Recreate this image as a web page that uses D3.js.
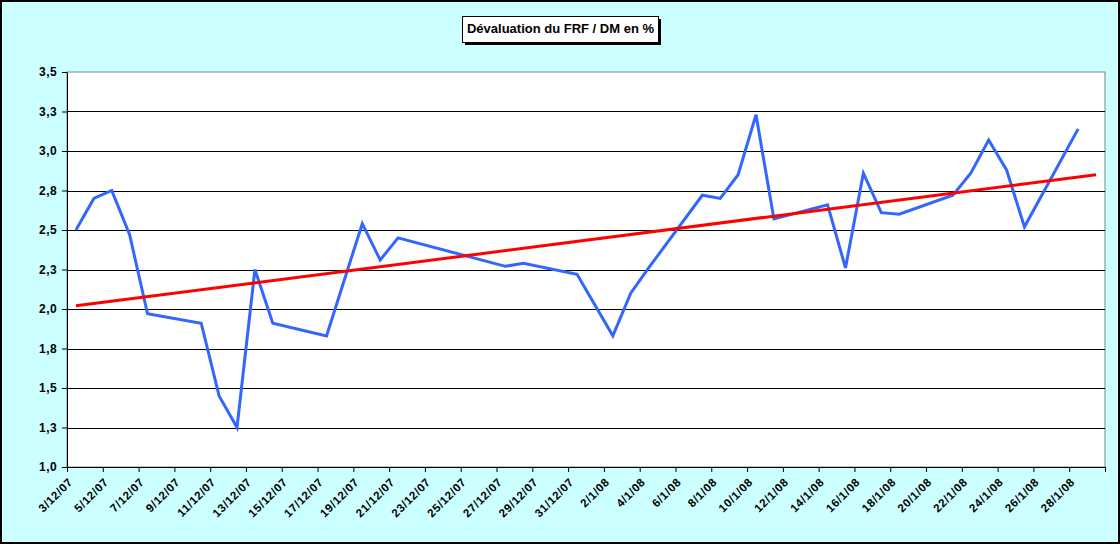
<!DOCTYPE html>
<html>
<head>
<meta charset="utf-8">
<script src="https://cdn.jsdelivr.net/npm/d3@7"></script>
<style>
	body{margin:0;background:#fff}
	svg{display:block;font-family:Arial,"Liberation Sans",sans-serif}
</style>
</head>
<body>
<div class="chart"></div>
<script>
// values (fixing days only, weekends / holidays absent)
const dates=['3/12/07','4/12/07','5/12/07','6/12/07','7/12/07',
	'10/12/07','11/12/07','12/12/07','13/12/07','14/12/07',
	'17/12/07','19/12/07','20/12/07','21/12/07',
	'27/12/07','28/12/07','31/12/07',
	'2/1/08','3/1/08','4/1/08','7/1/08','8/1/08','9/1/08','10/1/08','11/1/08',
	'14/1/08','15/1/08','16/1/08','17/1/08','18/1/08',
	'21/1/08','22/1/08','23/1/08','24/1/08','25/1/08','28/1/08']
const values=[2.50,2.70,2.75,2.47,1.97,
	1.91,1.45,1.25,2.25,1.91,
	1.83,2.54,2.31,2.45,
	2.27,2.29,2.22,
	1.83,2.10,2.26,2.72,2.70,2.85,3.23,2.57,
	2.66,2.26,2.86,2.61,2.60,
	2.72,2.86,3.07,2.88,2.52,3.14]

// linear trend, end points as drawn
const trendDates=['3/12/07','29/1/08']
const trendValues=[2.02,2.85]

const yTicks=[1,1.25,1.5,1.75,2,2.25,2.5,2.75,3,3.25,3.5]
const yTickLabels=['1,0','1,3','1,5','1,8','2,0','2,3','2,5','2,8','3,0','3,3','3,5']
const xTickLabels=['3/12/07','5/12/07','7/12/07','9/12/07','11/12/07','13/12/07','15/12/07',
	'17/12/07','19/12/07','21/12/07','23/12/07','25/12/07','27/12/07','29/12/07','31/12/07',
	'2/1/08','4/1/08','6/1/08','8/1/08','10/1/08','12/1/08','14/1/08','16/1/08',
	'18/1/08','20/1/08','22/1/08','24/1/08','26/1/08','28/1/08']
const xStart='3/12/07', xEnd='30/1/08'
const title='Dévaluation du FRF / DM en %'

const W=1120, H=544
const margin=({top:72,right:15,bottom:77,left:67})
const width=W-margin.left-margin.right,
	height=H-margin.top-margin.bottom

const parse=d3.timeParse('%d/%m/%y')
const mid=d=>d3.timeHour.offset(parse(d),12)

const svg=d3.select('.chart').append('svg')
	.attr('width',W)
	.attr('height',H)

svg.append('rect')
	.attr('x',1).attr('y',1)
	.attr('width',W-2).attr('height',H-2)
	.attr('fill','#ccffff')
	.attr('stroke','#000')
	.attr('stroke-width',2)

const g=svg.append('g')
	.attr('transform','translate('+margin.left+','+margin.top+')')

let xScale=d3.scaleTime()
	.domain([parse(xStart),parse(xEnd)])
	.range([0,width])

let yScale=d3.scaleLinear()
	.domain([yTicks[0],yTicks[yTicks.length-1]])
	.range([height,0])

// plot area
g.append('rect')
	.attr('x',0).attr('y',0)
	.attr('width',width).attr('height',height)
	.attr('fill','#fff')
	.attr('stroke','#808080')
	.attr('stroke-width',1)

g.selectAll('.grid')
	.data(yTicks.slice(1,-1))
	.enter()
	.append('line')
	.attr('class','grid')
	.attr('x1',0).attr('x2',width)
	.attr('y1',d=>Math.round(yScale(d))+0.5)
	.attr('y2',d=>Math.round(yScale(d))+0.5)
	.attr('stroke','#000')
	.attr('stroke-width',1)

// axes
let xTickDates=xTickLabels.map(parse).concat([parse(xEnd)])
let xAxis=d3.axisBottom(xScale)
	.tickValues(xTickDates)
	.tickFormat((d,i)=>xTickLabels[i]||'')
	.tickSize(5)
	.tickSizeOuter(0)

let yAxis=d3.axisLeft(yScale)
	.tickValues(yTicks)
	.tickFormat((d,i)=>yTickLabels[i])
	.tickSize(5)
	.tickSizeOuter(0)

const gx=g.append('g')
	.attr('class','x-axis')
	.attr('transform',`translate(0,${height})`)
	.call(xAxis)
gx.selectAll('text')
	.attr('x',0).attr('y',0)
	.attr('dy','0.35em')
	.attr('transform','translate(3,13) rotate(-45)')
	.style('text-anchor','end')
	.style('font-size','11.5px')
	.style('letter-spacing','0.6px')
	.style('font-weight','bold')
	.attr('fill','#000')

const gy=g.append('g')
	.attr('class','y-axis')
	.call(yAxis)
gy.selectAll('text')
	.attr('x',-10)
	.style('font-size','12px')
	.style('letter-spacing','0.4px')
	.style('font-weight','bold')
	.attr('fill','#000')

svg.selectAll('.domain, .tick line').attr('stroke','#000')

// series
let rows=dates.map((d,i)=>({date:mid(d),value:values[i]}))
let trend=trendDates.map((d,i)=>({date:mid(d),value:trendValues[i]}))

let line=d3.line()
	.x(d=>xScale(d.date))
	.y(d=>yScale(d.value))

g.append('path')
	.datum(rows)
	.attr('d',line)
	.attr('fill','none')
	.attr('stroke','#3366ff')
	.attr('stroke-width',3)
	.attr('stroke-linejoin','miter')

g.append('path')
	.datum(trend)
	.attr('d',line)
	.attr('fill','none')
	.attr('stroke','#ff0000')
	.attr('stroke-width',3)

// title box with shadow
const tx=462, ty=16, tw=196, th=26
svg.append('rect')
	.attr('x',tx+3).attr('y',ty+3)
	.attr('width',tw).attr('height',th)
	.attr('fill','#000')
svg.append('rect')
	.attr('x',tx+0.5).attr('y',ty+0.5)
	.attr('width',tw).attr('height',th)
	.attr('fill','#fff')
	.attr('stroke','#000')
	.attr('stroke-width',1)
svg.append('text')
	.attr('x',tx+tw/2+0.5)
	.attr('y',ty+17)
	.style('text-anchor','middle')
	.style('font-size','13px')
	.style('font-weight','bold')
	.text(title)
</script>
</body>
</html>
